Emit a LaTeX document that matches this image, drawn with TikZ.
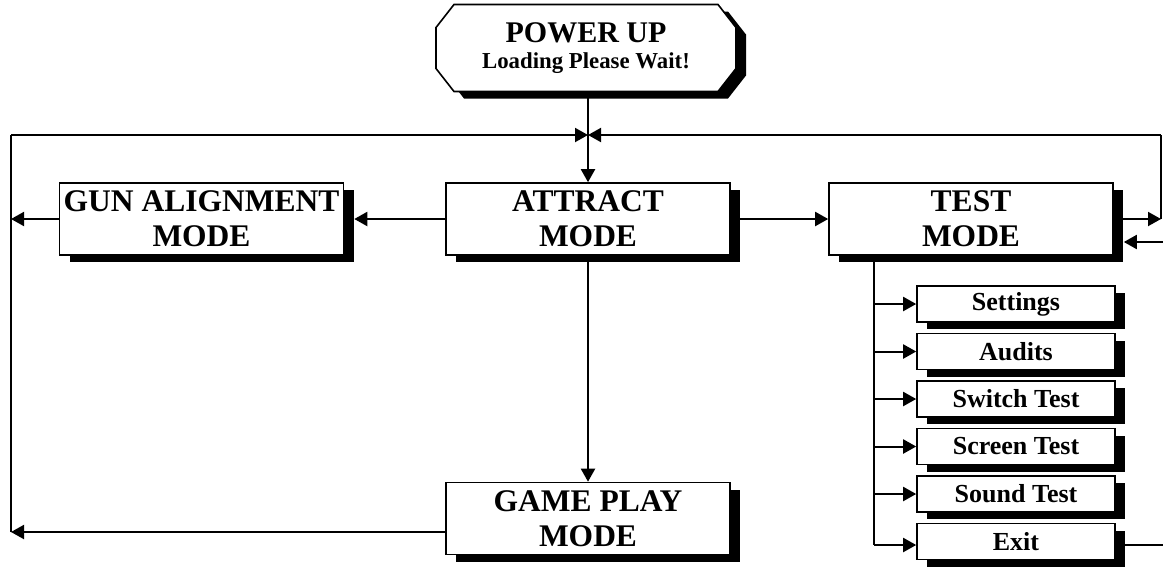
\documentclass[tikz,border=0pt]{standalone}
\usepackage{fontspec}
\setmainfont{Liberation Serif}
\usetikzlibrary{shadows}
\usetikzlibrary{arrows.meta}
\usetikzlibrary{positioning}
\usetikzlibrary{backgrounds}

% octagon round the power node, shifted by #1 and #2
\newcommand{\powershape}[2]{([shift={(#1+9pt,#2)}]power.north west) -- ([shift={(#1-9pt,#2)}]power.north east)
  -- ([shift={(#1,#2-11.5pt)}]power.north east) -- ([shift={(#1,#2+11.5pt)}]power.south east)
  -- ([shift={(#1-9pt,#2)}]power.south east) -- ([shift={(#1+9pt,#2)}]power.south west)
  -- ([shift={(#1,#2+11.5pt)}]power.south west) -- ([shift={(#1,#2-11.5pt)}]power.north west) -- cycle}

\begin{document}
\begin{tikzpicture}[x=0.5pt, y=-0.5pt, line width=1pt, node distance=23.75pt,
                    >={Triangle[length=6.5pt,width=7pt]},
                    box/.style={draw, fill=white, line width=0.8pt, inner sep=0pt, align=center,
                                drop shadow={shadow xshift=5pt, shadow yshift=-3.5pt, fill=black, opacity=1}},
                    mode node/.style={box, minimum width=142pt, minimum height=36pt,
                                      font=\fontsize{15.75}{17.5}\selectfont\bfseries},
                    menu node/.style={box, minimum width=99pt, minimum height=18pt,
                                      font=\fontsize{13}{15}\selectfont\bfseries},
                    power node/.style={inner sep=0pt, align=center, minimum width=149pt,
                                       minimum height=42.5pt, font=\fontsize{15}{13}\selectfont\bfseries}]

  \useasboundingbox (0,0) rectangle (1163,569);

  \node[power node] (power) at (586,48) {POWER UP\\{\fontsize{11.4}{13}\selectfont Loading Please Wait!}};
  \begin{scope}[on background layer]
    \fill[black] \powershape{5pt}{-3.5pt};
    \filldraw[fill=white, line width=0.8pt] \powershape{0pt}{0pt};
  \end{scope}

  \node[mode node] (attract) at (588,219) {ATTRACT\\MODE};
  \node[mode node] (gun) at (201.5,219) {GUN ALIGNMENT\\MODE};
  \node[mode node] (test) at (971,219) {TEST\\MODE};
  \node[mode node] (game) at (588,518.5) {GAME PLAY\\MODE};

  \node[menu node] (set) at (1016,304) {Settings};
  \node[menu node] (aud) [below of=set] {Audits};
  \node[menu node] (switch) [below of=aud] {Switch Test};
  \node[menu node] (screen) [below of=switch] {Screen Test};
  \node[menu node] (sound) [below of=screen] {Sound Test};
  \node[menu node] (exit) [below of=sound] {Exit};

  \coordinate (join) at (588,135);
  \coordinate (lefttop) at (11,135);
  \coordinate (leftbot) at (11,532);
  \coordinate (righttop) at (1161,135);
  \coordinate (rightin) at (1163,242);
  \coordinate (rightout) at (1163,545);
  \coordinate (spine) at (874,262);

  % main loop
  \draw (power.south -| join) -- (join);
  \draw[->] (join) -- (attract);
  \draw[->] (lefttop) -- (join);
  \draw[->] (righttop) -- (join);
  \draw (leftbot) -- (lefttop);
  \draw[->] (attract) -- (game);
  \draw[->] (game.west |- leftbot) -- (leftbot);
  \draw[->] (attract.west) -- ([xshift=5pt]gun.east);
  \draw[->] (gun.west) -- (gun.west -| lefttop);
  \draw[->] (attract.east) -- (test.west);
  \draw[->] (test.east) -- (test.east -| righttop);
  \draw (test.east -| righttop) -- (righttop);
  \draw[->] (rightin) -- ([xshift=5pt]test.east |- rightin);

  % test menu
  \draw (test.south -| spine) -- (spine |- rightout);
  \draw[->] (spine |- set) -- (set);
  \draw[->] (spine |- aud) -- (aud);
  \draw[->] (spine |- switch) -- (switch);
  \draw[->] (spine |- screen) -- (screen);
  \draw[->] (spine |- sound) -- (sound);
  \draw[->] (spine |- rightout) -- (exit.west |- rightout);
  \draw (exit.east |- rightout) -- (rightout);

\end{tikzpicture}
\end{document}
